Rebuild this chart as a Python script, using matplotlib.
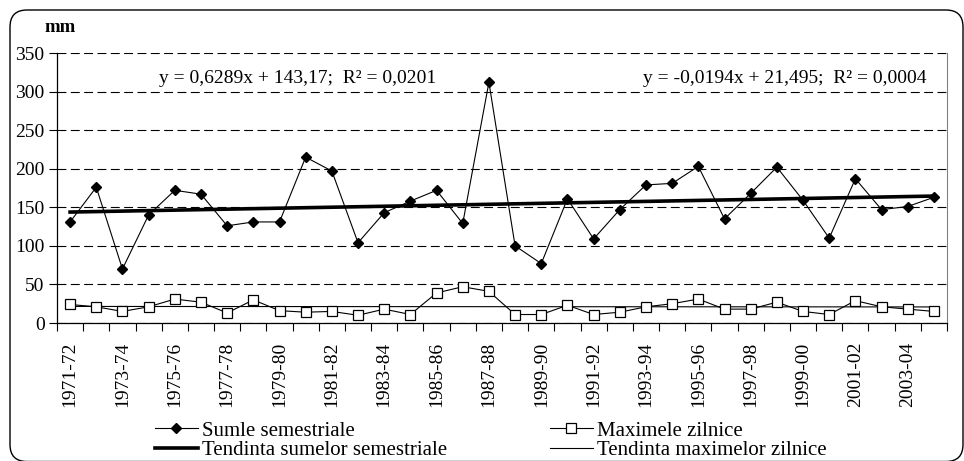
"""Semestrial precipitation sums and daily maxima, 1971-72 .. 2004-05, with linear trends."""
import matplotlib
matplotlib.use("Agg")
import matplotlib.pyplot as plt
from matplotlib.patches import FancyBboxPatch
import numpy as np

plt.rcParams.update({
  "font.family": ["Liberation Serif", "DejaVu Serif"],
  "font.size": 14,
})

SEASONS = [
  "1971-72", "1972-73", "1973-74", "1974-75", "1975-76", "1976-77",
  "1977-78", "1978-79", "1979-80", "1980-81", "1981-82", "1982-83",
  "1983-84", "1984-85", "1985-86", "1986-87", "1987-88", "1988-89",
  "1989-90", "1990-91", "1991-92", "1992-93", "1993-94", "1994-95",
  "1995-96", "1996-97", "1997-98", "1998-99", "1999-00", "2000-01",
  "2001-02", "2002-03", "2003-04", "2004-05",
]
SUMS = [
  131, 176, 70, 140, 172, 167, 126, 131, 131, 215, 197, 104,
  143, 158, 172, 129, 312, 100, 77, 161, 109, 147, 179, 181,
  203, 135, 168, 202, 159, 110, 187, 147, 151, 163,
]
MAXIMA = [
  24, 21, 15, 21, 31, 27, 13, 30, 16, 14, 15, 10,
  18, 11, 39, 47, 41, 11, 11, 23, 11, 14, 21, 25,
  31, 18, 18, 27, 15, 11, 29, 21, 18, 15,
]
# slope, intercept, R^2 of the linear fits
SUM_FIT = (0.6289, 143.17, 0.0201)
MAX_FIT = (-0.0194, 21.495, 0.0004)


def fit_label(fit, dec_a, dec_b):
  a, b, r2 = fit
  sign = "+" if b >= 0 else "-"
  txt = f"y = {a:.{dec_a}f}x {sign} {abs(b):.{dec_b}f};  R\u00b2 = {r2:.4f}"
  return txt.replace(".", ",")


fig = plt.figure(figsize=(9.64, 4.61), dpi=100)
ax = fig.add_axes([57 / 964, 1 - 323 / 461, 890 / 964, 270 / 461])

x = np.arange(1, len(SEASONS) + 1)
xs = np.array([x[0], x[-1]])

ax.plot(x, SUMS, color="black", lw=0.8, marker="D", ms=5.6,
        mfc="black", mec="black", label="Sumle semestriale", zorder=4)
ax.plot(xs, SUM_FIT[0] * xs + SUM_FIT[1], color="black", lw=2.6,
        label="Tendinta sumelor semestriale", zorder=3)
ax.plot(x, MAXIMA, color="black", lw=0.8, marker="s", ms=7.5,
        mfc="white", mec="black", mew=0.9, label="Maximele zilnice", zorder=4)
ax.plot(xs, MAX_FIT[0] * xs + MAX_FIT[1], color="black", lw=0.8,
        label="Tendinta maximelor zilnice", zorder=3)

ax.set_xlim(0.5, len(SEASONS) + 0.5)
ax.set_ylim(0, 350)
ax.set_yticks(np.arange(0, 351, 50))
ax.yaxis.grid(True, color="black", lw=0.8, linestyle=(0, (8, 4)))
ax.set_axisbelow(True)

# ticks sit between categories, labels on every other category centre
ax.set_xticks(np.arange(0.5, len(SEASONS) + 1, 1.0))
ax.set_xticklabels([])
ax.set_xticks(x[::2], minor=True)
ax.set_xticklabels(SEASONS[::2], minor=True, rotation=90)
ax.tick_params(axis="x", which="major", length=6, width=0.8, direction="out")
ax.tick_params(axis="x", which="minor", length=0, pad=13.5, labelsize=14)
ax.tick_params(axis="y", length=6, width=0.8, direction="out", pad=3, labelsize=14)

ax.spines["top"].set_visible(False)
ax.spines["right"].set_color("#808080")
ax.spines["right"].set_linewidth(0.8)
ax.spines["left"].set_linewidth(0.9)
ax.spines["bottom"].set_linewidth(0.9)

ax.text(0.27, 0.905, fit_label(SUM_FIT, 4, 2), transform=ax.transAxes,
        ha="center", va="center", fontsize=14)
ax.text(0.9775, 0.905, fit_label(MAX_FIT, 4, 3), transform=ax.transAxes,
        ha="right", va="center", fontsize=14)

fig.text(44 / 964, 1 - 28 / 461, "mm", fontsize=13.5, fontweight="bold",
         ha="left", va="center")

ax.legend(ncol=2, loc="upper left", bbox_to_anchor=(155 / 964, 1 - 421 / 461),
          bbox_transform=fig.transFigure, frameon=False, fontsize=15,
          handlelength=2.05, handletextpad=0.2, columnspacing=4.95,
          labelspacing=0.0, borderpad=0, borderaxespad=0)

border = FancyBboxPatch((0.10, -0.005), 9.53, 4.515,
                        boxstyle="round,pad=0,rounding_size=0.17",
                        transform=fig.dpi_scale_trans, fill=False,
                        edgecolor="black", lw=1.0)
fig.add_artist(border)

fig.savefig("out.png", dpi=100)
